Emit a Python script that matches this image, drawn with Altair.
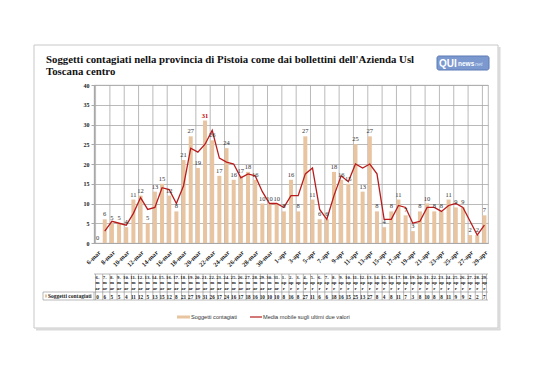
import altair as alt
import pandas as pd

# ---------------- data ----------------
dates = [f"{d}-mar" for d in range(6, 32)] + [f"{d}-apr" for d in range(1, 30)]
values = [0, 6, 5, 5, 4, 11, 12, 5, 13, 15, 12, 8, 21, 27, 19, 31, 26, 17, 24, 16,
          17, 18, 16, 10, 10, 10,
          8, 16, 8, 27, 11, 6, 6, 18, 16, 15, 25, 13, 27, 8, 4, 8, 11, 7, 3, 8,
          10, 8, 8, 11, 9, 9, 2, 2, 7]
title_lines = ["Soggetti contagiati nella provincia di Pistoia come dai bollettini dell'Azienda Usl",
               "Toscana centro"]
series_bar = "Soggetti contagiati"
series_line = "Media mobile sugli ultimi due valori"
y_ticks = [0, 5, 10, 15, 20, 25, 30, 35, 40]

df = pd.DataFrame({"date": dates, "idx": range(len(dates)), "value": values})
df["h1"] = [d.split("-")[0] + "-" for d in dates]
df["h2"] = ["m" if d.endswith("mar") else "ap" for d in dates]
df["h3"] = ["ar" if d.endswith("mar") else "r" for d in dates]
vmax = max(values)

W, H = 394, 158
BAR = "#E8C4A0"
LINE = "#B81C1C"
GRID = "#A8A8A8"
SERIF = "Liberation Serif"
SANS = "Liberation Sans"

xscale = alt.Scale(domain=dates, paddingInner=0.44, paddingOuter=0.22)
yscale = alt.Scale(domain=[0, 40], nice=False)
XAX = alt.Axis(values=dates[::2], labelAngle=-45, labelFont=SERIF,
               labelFontWeight="bold", labelFontSize=6.5, labelColor="#222",
               ticks=False, domainColor=GRID, labelPadding=6, grid=False)
YAX = alt.Axis(values=y_ticks, labelFont=SERIF, labelFontWeight="bold",
               labelFontSize=6, labelColor="#222", tickSize=3, tickColor=GRID,
               domainColor=GRID, gridColor=GRID, gridWidth=0.8, labelPadding=2)


def XE(band=None):
    if band is None:
        return alt.X("date:N", scale=xscale, sort=dates, title=None, axis=XAX)
    return alt.X("date:N", scale=xscale, sort=dates, title=None, axis=XAX,
                 bandPosition=band)


def YE(field):
    return alt.Y(f"{field}:Q", scale=yscale, title=None, axis=YAX)


base = alt.Chart(df)
one = alt.Chart(pd.DataFrame({"k": [0]}))

# frame box (stroke only) with light shadow on right and bottom
shadow_r = one.mark_rule(color="#DADADA", strokeWidth=2).encode(
    x=alt.value(405.5), y=alt.value(-38), y2=alt.value(245))
shadow_b = one.mark_rule(color="#DADADA", strokeWidth=2).encode(
    x=alt.value(-58), x2=alt.value(406.5), y=alt.value(244.5))
box = one.mark_rect(fill=None, stroke="#C8C8C8", strokeWidth=1).encode(
    x=alt.value(-60), x2=alt.value(404), y=alt.value(-40), y2=alt.value(243))

# vertical gridlines every two categories
vgrid = alt.Chart(df[df["idx"] % 2 == 0]).mark_rule(color=GRID, strokeWidth=0.8).encode(
    x=XE(0), y=alt.value(0), y2=alt.value(H))

bars = base.mark_bar(color=BAR).encode(x=XE(), y=YE("value"))

line = base.transform_window(
    ma="mean(value)", frame=[-1, 0], sort=[alt.SortField("idx")]
).transform_filter("datum.idx >= 1").mark_line(color=LINE, strokeWidth=1.3).encode(
    x=XE(), y=YE("ma"))

labels = base.transform_filter(f"datum.value < {vmax}").mark_text(
    dy=-5, font=SERIF, fontSize=6.5, color="#333333").encode(
    x=XE(), y=YE("value"), text="value:Q")
label_max = base.transform_filter(f"datum.value == {vmax}").mark_text(
    dy=-5, font=SERIF, fontSize=6.5, color="#C00000", fontWeight="bold").encode(
    x=XE(), y=YE("value"), text="value:Q")

# ---------------- data table ----------------
T0, T1, T2 = 189, 207, 215
TL = "#8A8A8A"
tcol = alt.Chart(df).mark_rule(color=TL, strokeWidth=0.6).encode(
    x=XE(0), y=alt.value(T0), y2=alt.value(T2))
tcol_end = alt.Chart(df.tail(1)).mark_rule(color=TL, strokeWidth=0.6).encode(
    x=XE(1), y=alt.value(T0), y2=alt.value(T2))
trow_list = []
for yy in (T0, T1, T2):
    trow_list.append(one.mark_rule(color=TL, strokeWidth=0.6).encode(
        x=alt.value(0), x2=alt.value(W), y=alt.value(yy)))
tlabel_cell = one.mark_rect(fill=None, stroke=TL, strokeWidth=0.6).encode(
    x=alt.value(-51), x2=alt.value(0), y=alt.value(T1), y2=alt.value(T2))
tlabel_sw = one.mark_rect(fill=BAR).encode(
    x=alt.value(-49), x2=alt.value(-47), y=alt.value(T1 + 2.5), y2=alt.value(T1 + 5.5))
tlabel_txt = one.mark_text(text=series_bar, font=SERIF, fontSize=5.5, align="left",
                           baseline="middle", fontWeight="bold", color="#222").encode(
    x=alt.value(-46), y=alt.value((T1 + T2) / 2))


def hdr(field, yy):
    return base.mark_text(font=SERIF, fontSize=4.8, fontWeight="bold", baseline="middle",
                          color="#222").encode(
        x=XE(), y=alt.value(yy), text=f"{field}:N")


tvals = base.mark_text(font=SERIF, fontSize=5.2, fontWeight="bold", baseline="middle",
                       color="#222").encode(
    x=XE(), y=alt.value((T1 + T2) / 2 + 0.5), text="value:Q")

# ---------------- legend ----------------
LY = 232
leg_bar = one.mark_rule(color=BAR, strokeWidth=3).encode(
    x=alt.value(83), x2=alt.value(96), y=alt.value(LY))
leg_bar_t = one.mark_text(text=series_bar, font=SANS, fontSize=5.6, align="left",
                          baseline="middle", color="#333").encode(
    x=alt.value(97), y=alt.value(LY))
leg_line = one.mark_rule(color=LINE, strokeWidth=1.2).encode(
    x=alt.value(156), x2=alt.value(168), y=alt.value(LY))
leg_line_t = one.mark_text(text=series_line, font=SANS, fontSize=5.6, align="left",
                           baseline="middle", color="#333").encode(
    x=alt.value(169), y=alt.value(LY))

# ---------------- title & logo ----------------
t1 = one.mark_text(text=title_lines[0], font=SERIF, fontSize=10.8, fontWeight="bold",
                   align="left", baseline="alphabetic", color="#111").encode(
    x=alt.value(-48), y=alt.value(-22))
t2 = one.mark_text(text=title_lines[1], font=SERIF, fontSize=10.8, fontWeight="bold",
                   align="left", baseline="alphabetic", color="#111").encode(
    x=alt.value(-48), y=alt.value(-10))
logo = one.mark_rect(fill="#7B98CF", stroke="#5C7AB5", cornerRadius=2).encode(
    x=alt.value(343), x2=alt.value(395), y=alt.value(-29), y2=alt.value(-15))
logo_q = one.mark_text(text="QUI", font=SANS, fontSize=10, fontWeight="bold",
                       align="left", baseline="middle", color="white").encode(
    x=alt.value(345), y=alt.value(-21.5))
logo_n = one.mark_text(text="news", font=SANS, fontSize=6.5, fontWeight="bold",
                       align="left", baseline="middle", color="white").encode(
    x=alt.value(364), y=alt.value(-21.5))
logo_t = one.mark_text(text="net", font=SANS, fontSize=5.5, fontStyle="italic",
                       align="left", baseline="middle", color="#D8E4F7").encode(
    x=alt.value(381), y=alt.value(-21.5))

chart = alt.layer(
    shadow_r, shadow_b, box, vgrid, bars, line, labels, label_max,
    tcol, tcol_end, *trow_list, tlabel_cell, tlabel_sw, tlabel_txt,
    hdr("h1", 192.5), hdr("h2", 198), hdr("h3", 203.5), tvals,
    leg_bar, leg_bar_t, leg_line, leg_line_t,
    t1, t2, logo, logo_q, logo_n, logo_t
).properties(
    width=W, height=H,
    autosize=alt.AutoSizeParams(type="none"),
    padding={"left": 94, "top": 85, "right": 50, "bottom": 137},
    background="white"
).configure_view(stroke=GRID, strokeWidth=0.8)

chart.save("out.html", embed_options={"renderer": "svg", "actions": False})
